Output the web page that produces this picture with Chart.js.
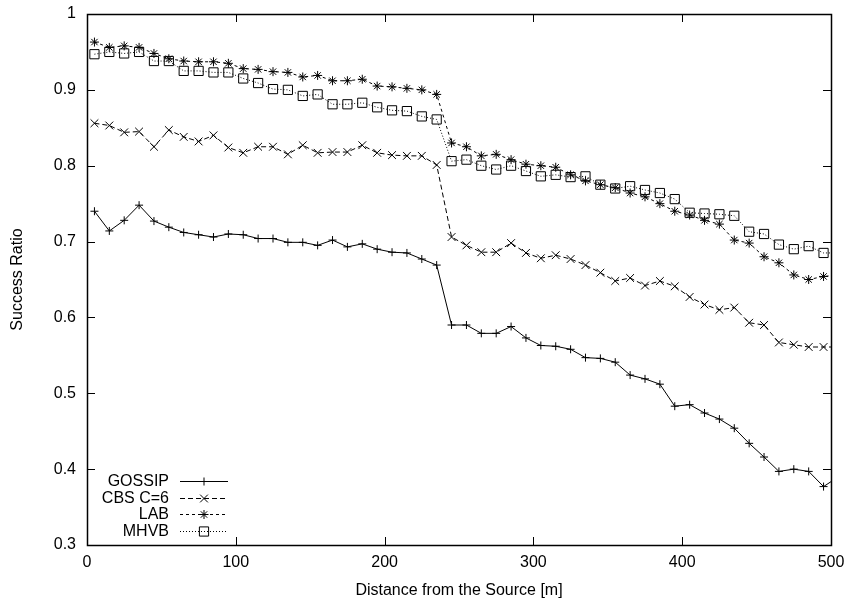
<!DOCTYPE html>
<html>
<head>
<meta charset="utf-8">
<script src="https://cdn.jsdelivr.net/npm/chart.js"></script>
<style>
  html, body { margin: 0; padding: 0; background: #fff; }
  canvas { display: block; }
</style>
</head>
<body>
<canvas id="c" width="849" height="605"></canvas>
<script>
// ---- data ----
const distances = [5,15,25,35,45,55,65,75,85,95,105,115,125,135,145,155,165,175,185,195,205,215,225,235,245,255,265,275,285,295,305,315,325,335,345,355,365,375,385,395,405,415,425,435,445,455,465,475,485,495,505];

const gossip = [0.740,0.714,0.728,0.748,0.727,0.719,0.712,0.709,0.706,0.710,0.709,0.704,0.704,0.699,0.699,0.695,0.702,0.693,0.697,0.690,0.686,0.685,0.677,0.669,0.590,0.590,0.579,0.579,0.588,0.573,0.563,0.562,0.558,0.547,0.546,0.541,0.524,0.519,0.512,0.483,0.485,0.474,0.466,0.454,0.434,0.416,0.397,0.400,0.397,0.377,0.390];

const cbs = [0.856,0.853,0.844,0.845,0.825,0.847,0.838,0.832,0.840,0.824,0.817,0.825,0.825,0.815,0.827,0.817,0.818,0.818,0.827,0.817,0.814,0.813,0.813,0.801,0.706,0.695,0.686,0.686,0.698,0.685,0.678,0.682,0.677,0.669,0.659,0.648,0.652,0.642,0.648,0.641,0.627,0.617,0.610,0.613,0.593,0.590,0.567,0.564,0.561,0.561,0.561];

const lab = [0.963,0.956,0.958,0.956,0.948,0.941,0.938,0.937,0.937,0.935,0.928,0.927,0.924,0.923,0.917,0.919,0.912,0.912,0.914,0.905,0.904,0.902,0.900,0.894,0.830,0.825,0.813,0.815,0.808,0.802,0.800,0.798,0.788,0.780,0.775,0.771,0.764,0.759,0.750,0.740,0.735,0.728,0.723,0.702,0.698,0.680,0.672,0.656,0.650,0.654,0.656];

const mhvb = [0.947,0.950,0.948,0.950,0.938,0.938,0.925,0.925,0.923,0.923,0.915,0.909,0.901,0.900,0.892,0.894,0.881,0.881,0.883,0.877,0.873,0.872,0.865,0.861,0.806,0.808,0.800,0.795,0.800,0.793,0.786,0.788,0.785,0.786,0.775,0.770,0.773,0.768,0.764,0.756,0.738,0.737,0.736,0.734,0.713,0.710,0.696,0.690,0.694,0.685,0.685];

const seriesLabels = ['GOSSIP', 'CBS C=6', 'LAB', 'MHVB'];
const xTickValues = [0, 100, 200, 300, 400, 500];
const xTickLabels = ['0', '100', '200', '300', '400', '500'];
const yTickValues = [0.3, 0.4, 0.5, 0.6, 0.7, 0.8, 0.9, 1.0];
const yTickLabels = ['0.3', '0.4', '0.5', '0.6', '0.7', '0.8', '0.9', '1'];
const xTitle = 'Distance from the Source [m]';
const yTitle = 'Success Ratio';

// ---- chart ----
Chart.defaults.font.family = '"Liberation Sans", Arial, Helvetica, sans-serif';
Chart.defaults.font.size = 16;
Chart.defaults.color = '#000';

function pts(arr) { return distances.map((d, i) => ({ x: d, y: arr[i] })); }

const styles = [
  { pointStyle: 'cross',    pointRadius: 4,   borderDash: [] },
  { pointStyle: 'crossRot', pointRadius: 5.5, borderDash: [5, 3] },
  { pointStyle: 'star',     pointRadius: 4.5, borderDash: [3, 3] },
  { pointStyle: 'rect',     pointRadius: 6.5, borderDash: [1, 2] }
];
const seriesData = [gossip, cbs, lab, mhvb];

const datasets = seriesData.map((arr, i) => ({
  label: seriesLabels[i],
  data: pts(arr),
  borderColor: '#000',
  borderWidth: 1,
  borderDash: styles[i].borderDash,
  pointStyle: styles[i].pointStyle,
  pointRadius: styles[i].pointRadius,
  pointBorderColor: '#000',
  pointBackgroundColor: 'rgba(0,0,0,0)',
  pointBorderWidth: 1,
  fill: false,
  tension: 0
}));

const frame = {
  id: 'frame',
  afterDraw(chart) {
    const { ctx, chartArea: a, scales: { x, y } } = chart;
    const tl = 8;
    ctx.save();
    ctx.strokeStyle = '#000';
    ctx.lineWidth = 1;
    ctx.setLineDash([]);
    ctx.beginPath();
    x.ticks.forEach(t => {
      const px = Math.round(x.getPixelForValue(t.value)) + 0.5;
      ctx.moveTo(px, a.bottom); ctx.lineTo(px, a.bottom - tl);
      ctx.moveTo(px, a.top); ctx.lineTo(px, a.top + tl);
    });
    y.ticks.forEach(t => {
      const py = Math.round(y.getPixelForValue(t.value)) + 0.5;
      ctx.moveTo(a.left, py); ctx.lineTo(a.left + tl, py);
      ctx.moveTo(a.right, py); ctx.lineTo(a.right - tl, py);
    });
    ctx.stroke();
    ctx.lineWidth = 1.5;
    ctx.strokeRect(Math.round(a.left) + 0.5, Math.round(a.top) + 0.5,
                   Math.round(a.right - a.left), Math.round(a.bottom - a.top));
    ctx.restore();
  }
};

function markerPath(ctx, style, r, cx, cy) {
  ctx.beginPath();
  if (style === 'cross' || style === 'star') {
    ctx.moveTo(cx, cy - r); ctx.lineTo(cx, cy + r);
    ctx.moveTo(cx - r, cy); ctx.lineTo(cx + r, cy);
  }
  if (style === 'crossRot' || style === 'star') {
    const o = r * Math.SQRT1_2;
    ctx.moveTo(cx - o, cy - o); ctx.lineTo(cx + o, cy + o);
    ctx.moveTo(cx - o, cy + o); ctx.lineTo(cx + o, cy - o);
  }
  if (style === 'rect') {
    const s = r * Math.SQRT1_2;
    ctx.rect(cx - s, cy - s, 2 * s, 2 * s);
  }
  ctx.stroke();
}

const keyBox = {
  id: 'keyBox',
  afterDraw(chart) {
    const { ctx, chartArea: a } = chart;
    const textRight = a.left + 82;
    const l0 = a.left + 93, l1 = a.left + 141;
    const rowH = 16.7, first = a.bottom - 64;
    ctx.save();
    ctx.font = '16px ' + Chart.defaults.font.family;
    ctx.fillStyle = '#000';
    ctx.strokeStyle = '#000';
    ctx.lineWidth = 1;
    ctx.textAlign = 'right';
    ctx.textBaseline = 'middle';
    chart.data.datasets.forEach((ds, i) => {
      const yy = Math.round(first + i * rowH) + 0.5;
      ctx.fillText(ds.label, textRight, yy);
      ctx.setLineDash(ds.borderDash || []);
      ctx.beginPath(); ctx.moveTo(l0, yy); ctx.lineTo(l1, yy); ctx.stroke();
      ctx.setLineDash([]);
      markerPath(ctx, ds.pointStyle, ds.pointRadius, (l0 + l1) / 2, yy);
    });
    ctx.restore();
  }
};

new Chart(document.getElementById('c'), {
  type: 'line',
  data: { datasets },
  options: {
    responsive: false,
    animation: false,
    events: [],
    layout: { padding: { top: 14, right: 18, left: 0, bottom: 0 } },
    plugins: { legend: { display: false }, tooltip: { enabled: false } },
    scales: {
      x: {
        type: 'linear',
        min: 0, max: 500,
        afterFit(s) { s.height = 60; s.paddingLeft = 0; s.paddingRight = 0; },
        afterBuildTicks(s) { s.ticks = xTickValues.map(v => ({ value: v })); },
        ticks: {
          padding: 8,
          maxRotation: 0,
          callback: (v) => { const i = xTickValues.indexOf(v); return i >= 0 ? xTickLabels[i] : ''; }
        },
        grid: { display: false, drawTicks: false },
        border: { display: false },
        title: { display: true, text: xTitle, padding: { top: 0, bottom: 5 }, font: { size: 16 } }
      },
      y: {
        type: 'linear',
        min: 0.3, max: 1.0,
        afterFit(s) { s.width = 87; s.paddingTop = 0; s.paddingBottom = 0; },
        afterBuildTicks(s) { s.ticks = yTickValues.map(v => ({ value: v })); },
        ticks: {
          padding: 11,
          callback: (v) => { const i = yTickValues.findIndex(t => Math.abs(t - v) < 1e-9); return i >= 0 ? yTickLabels[i] : ''; }
        },
        grid: { display: false, drawTicks: false },
        border: { display: false },
        title: { display: true, text: yTitle, padding: { top: 8, bottom: 0 }, font: { size: 16 } }
      }
    }
  },
  plugins: [frame, keyBox]
});
</script>
</body>
</html>
